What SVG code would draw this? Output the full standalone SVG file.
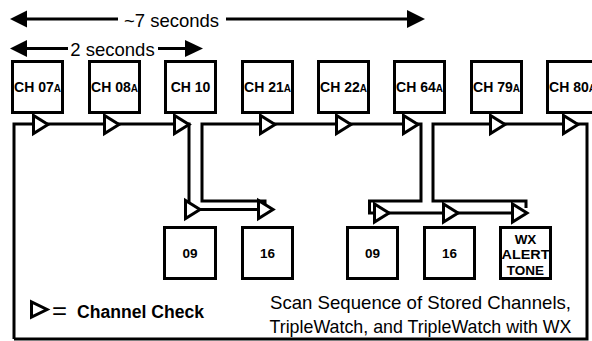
<svg xmlns="http://www.w3.org/2000/svg" width="592" height="341" viewBox="0 0 592 341">
<style>
.box{fill:#fff;stroke:#000;stroke-width:3}
.ln{fill:none;stroke:#000;stroke-width:3;stroke-linejoin:miter}
.tri{fill:#fff;stroke:#000;stroke-width:3;stroke-linejoin:miter}
.head{fill:#000}
.ch{font-family:"Liberation Sans",Arial,sans-serif;font-weight:bold;font-size:14px;text-anchor:middle;fill:#000}
.sub{font-size:10px}
.lbl{font-family:"Liberation Sans",Arial,sans-serif;font-size:18.5px;fill:#000}
.num{font-family:"Liberation Sans",Arial,sans-serif;font-weight:bold;font-size:13.5px;text-anchor:middle;fill:#000}
</style>
<defs>
<polygon id="tri" class="tri" points="1.5,-9 1.5,9 16,0"/>
</defs>
<rect width="592" height="341" fill="#fff"/>

<g id="dim7">
<line class="ln" x1="26" y1="19" x2="118" y2="19"/>
<line class="ln" x1="226" y1="19" x2="408" y2="19"/>
<polygon class="head" points="10,19 27,10.5 27,27.5"/>
<polygon class="head" points="425,19 407,10 407,28"/>
<text class="lbl" x="171.5" y="26.5" text-anchor="middle">~7 seconds</text>
</g>
<g id="dim2">
<line class="ln" x1="26" y1="48.5" x2="68" y2="48.5"/>
<line class="ln" x1="158" y1="48.5" x2="186" y2="48.5"/>
<polygon class="head" points="10,48.5 27,40 27,57"/>
<polygon class="head" points="203,48.5 185,40 185,57"/>
<text class="lbl" x="112.5" y="55.5" text-anchor="middle">2 seconds</text>
</g>

<g id="connectors">
<path class="ln" d="M14,339 V124 H189 V209.5 H262"/>
<path class="ln" d="M265,205 V201 H202 V124 H421 V201 H369.5 V213 H520"/>
<path class="ln" d="M526,208 V201 H433 V124 H587 V339 H14"/>
<use href="#tri" x="32" y="124.5"/>
<use href="#tri" x="103" y="124.5"/>
<use href="#tri" x="173" y="124.5"/>
<use href="#tri" x="259" y="124.5"/>
<use href="#tri" x="335" y="124.5"/>
<use href="#tri" x="402" y="124.5"/>
<use href="#tri" x="489" y="124.5"/>
<use href="#tri" x="562" y="124.5"/>
<use href="#tri" x="184" y="209.5"/>
<use href="#tri" x="257" y="209.5"/>
<use href="#tri" x="373" y="213"/>
<use href="#tri" x="442" y="213"/>
<use href="#tri" x="511" y="213"/>
</g>

<g id="ch07"><rect class="box" x="12.5" y="61.5" width="50" height="51"/><text class="ch" x="37.5" y="92">CH 07<tspan class="sub">A</tspan></text></g>
<g id="ch08"><rect class="box" x="89.5" y="61.5" width="50" height="51"/><text class="ch" x="114.5" y="92">CH 08<tspan class="sub">A</tspan></text></g>
<g id="ch10"><rect class="box" x="165.5" y="61.5" width="50" height="51"/><text class="ch" x="190.5" y="92">CH 10</text></g>
<g id="ch21"><rect class="box" x="242.5" y="61.5" width="50" height="51"/><text class="ch" x="267.5" y="92">CH 21<tspan class="sub">A</tspan></text></g>
<g id="ch22"><rect class="box" x="318.5" y="61.5" width="50" height="51"/><text class="ch" x="343.5" y="92">CH 22<tspan class="sub">A</tspan></text></g>
<g id="ch64"><rect class="box" x="394.5" y="61.5" width="50" height="51"/><text class="ch" x="419.5" y="92">CH 64<tspan class="sub">A</tspan></text></g>
<g id="ch79"><rect class="box" x="471.5" y="61.5" width="50" height="51"/><text class="ch" x="496.5" y="92">CH 79<tspan class="sub">A</tspan></text></g>
<g id="ch80"><rect class="box" x="547.5" y="61.5" width="50" height="51"/><text class="ch" x="572.5" y="92">CH 80<tspan class="sub">A</tspan></text></g>

<g id="tw09"><rect class="box" x="164.5" y="227.5" width="51" height="51"/><text class="num" x="190" y="258">09</text></g>
<g id="tw16"><rect class="box" x="242.5" y="227.5" width="50" height="51"/><text class="num" x="267.5" y="258">16</text></g>
<g id="twx09"><rect class="box" x="347.5" y="227.5" width="50" height="51"/><text class="num" x="372.5" y="258">09</text></g>
<g id="twx16"><rect class="box" x="424.5" y="227.5" width="50" height="51"/><text class="num" x="449.5" y="258">16</text></g>
<g id="wxtone"><rect class="box" x="500.5" y="227.5" width="50" height="51"/>
<text class="num" x="525.5" y="244">WX</text>
<text class="num" x="525.5" y="259" textLength="48" lengthAdjust="spacingAndGlyphs">ALERT</text>
<text class="num" x="525.5" y="274.5">TONE</text></g>

<g id="legend">
<polygon class="tri" points="31.5,302 31.5,317 47,309.5"/>
<text x="52" y="318.5" font-family="'Liberation Sans',Arial,sans-serif" font-size="24" textLength="15" lengthAdjust="spacingAndGlyphs">=</text>
<text x="77" y="318" font-family="'Liberation Sans',Arial,sans-serif" font-weight="bold" font-size="17.5" textLength="127" lengthAdjust="spacingAndGlyphs">Channel Check</text>
</g>
<g id="caption">
<text class="lbl" x="270" y="309" textLength="301" lengthAdjust="spacingAndGlyphs">Scan Sequence of Stored Channels,</text>
<text class="lbl" x="269.5" y="332.5" textLength="302" lengthAdjust="spacingAndGlyphs">TripleWatch, and TripleWatch with WX</text>
</g>
</svg>
